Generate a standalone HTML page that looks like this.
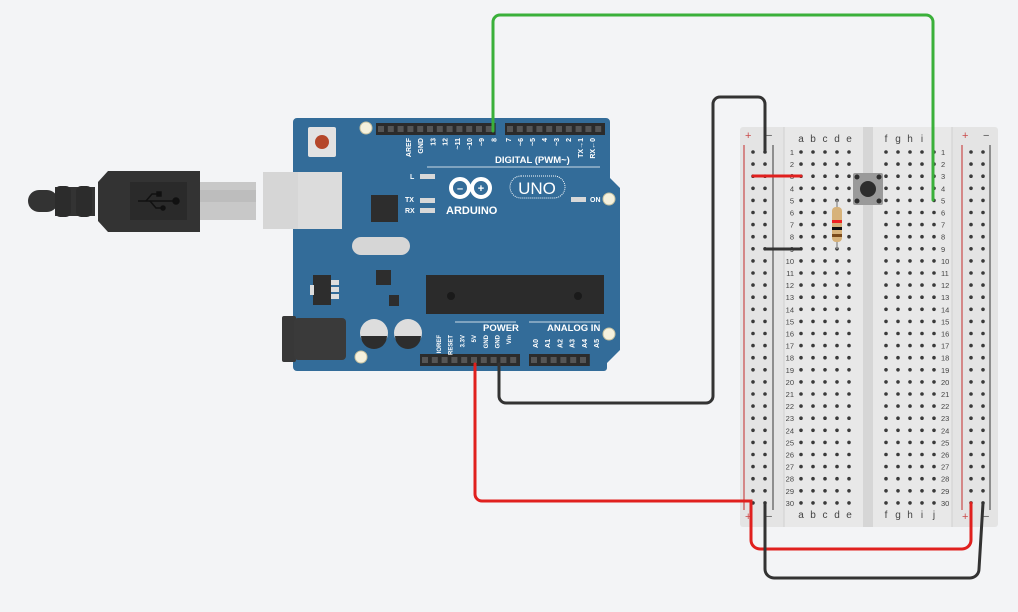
<!DOCTYPE html>
<html><head><meta charset="utf-8"><style>
html,body{margin:0;padding:0;background:#f3f4f6;}
svg{display:block;font-family:"Liberation Sans",sans-serif;}
</style></head><body>
<svg id="s" width="1018" height="612" viewBox="0 0 1018 612" xmlns="http://www.w3.org/2000/svg">
<rect width="1018" height="612" fill="#f3f4f6"/>
<!-- USB cable -->
<rect x="28" y="190" width="30" height="22" rx="11" fill="#333"/>
<rect x="55" y="187" width="40" height="29" fill="#333"/>
<rect x="55" y="186" width="16" height="31" rx="5" fill="#2c2c2c"/>
<rect x="76" y="186" width="16" height="31" rx="5" fill="#2c2c2c"/>
<path d="M98,182 l10,-11 H200 V232 H108 l-10,-11z" fill="#333"/>
<rect x="130" y="182" width="57" height="38" fill="#2a2a2a"/>
<g stroke="#111" stroke-width="1.5" fill="#111"><line x1="138" y1="201" x2="176" y2="201"/><path d="M146,201 l6,-7 h6" fill="none"/><path d="M150,201 l6,7 h6" fill="none"/><circle cx="176" cy="201" r="3"/><rect x="157" y="192" width="4" height="4"/><circle cx="163" cy="208" r="2"/></g>
<rect x="200" y="182" width="56" height="38" fill="#c8c8c8"/>
<rect x="200" y="190" width="56" height="12" fill="#bdbdbd"/>
<!-- Arduino board -->
<path d="M297,118 H606 a4,4 0 0 1 4,4 V178 L620,188 V350 L607,363 V368 a3,3 0 0 1 -3,3 H297 a4,4 0 0 1 -4,-4 V122 a4,4 0 0 1 4,-4z" fill="#336c99"/>
<rect x="263" y="172" width="79" height="57" fill="#dcdcdc"/>
<rect x="263" y="172" width="35" height="57" fill="#d6d6d6"/>
<rect x="308" y="127" width="28" height="30" rx="2" fill="#e2e2e2"/>
<circle cx="322" cy="142" r="7" fill="#b5472a"/>
<g fill="#f5f1dd" stroke="#c8c2a0"><circle cx="366" cy="128" r="6"/><circle cx="609" cy="199" r="6"/><circle cx="609" cy="334" r="6"/><circle cx="361" cy="357" r="6"/></g>
<g id="hdr"></g>
<g fill="#fff" font-size="8.5" font-weight="bold"><text x="495" y="163" font-size="9.5">DIGITAL (PWM~)</text>
<text x="483" y="331" font-size="9.5">POWER</text><text x="547" y="331" font-size="9.5">ANALOG IN</text>
<text x="410" y="179" font-size="7">L</text><text x="405" y="202" font-size="7">TX</text><text x="405" y="213" font-size="7">RX</text><text x="590" y="202" font-size="7">ON</text>
<text x="446" y="214" font-size="11">ARDUINO</text></g>
<line x1="427" y1="167" x2="600" y2="167" stroke="#fff" stroke-width="0.8"/>
<line x1="455" y1="322" x2="516" y2="322" stroke="#fff" stroke-width="0.8"/>
<line x1="529" y1="322" x2="600" y2="322" stroke="#fff" stroke-width="0.8"/>
<g fill="#d8d8d8"><rect x="420" y="174" width="15" height="5"/><rect x="420" y="198" width="15" height="5"/><rect x="420" y="208" width="15" height="5"/><rect x="571" y="197" width="15" height="5"/></g>
<g fill="none" stroke="#fff" stroke-width="4"><circle cx="460" cy="188" r="9"/><circle cx="481" cy="188" r="9"/></g>
<text x="460" y="192" fill="#fff" font-size="11" font-weight="bold" text-anchor="middle">–</text>
<text x="481" y="192" fill="#fff" font-size="11" font-weight="bold" text-anchor="middle">+</text>
<rect x="510" y="176" width="55" height="22" rx="11" fill="none" stroke="#fff" stroke-dasharray="1,1"/>
<text x="537" y="194" fill="#fff" font-size="17" text-anchor="middle">UNO</text>
<rect x="371" y="195" width="27" height="27" fill="#2d2d2d"/>
<rect x="352" y="237" width="58" height="18" rx="9" fill="#d6d6d6"/>
<rect x="376" y="270" width="15" height="15" fill="#2d2d2d"/>
<rect x="313" y="275" width="18" height="30" fill="#2d2d2d"/><g fill="#ddd"><rect x="331" y="280" width="8" height="5"/><rect x="331" y="287" width="8" height="5"/><rect x="331" y="294" width="8" height="5"/><rect x="310" y="285" width="4" height="10"/></g>
<rect x="389" y="295" width="10" height="11" fill="#2d2d2d"/>
<rect x="426" y="275" width="178" height="39" fill="#2b2b2b"/>
<circle cx="451" cy="296" r="4" fill="#1a1a1a"/><circle cx="578" cy="296" r="4" fill="#1a1a1a"/>
<g fill="#ddd"><circle cx="374" cy="333" r="14"/><circle cx="408" cy="333" r="14"/></g>
<g fill="#2d2d2d"><path d="M361,336 h26 a13,13 0 0 1 -26,0z"/><path d="M395,336 h26 a13,13 0 0 1 -26,0z"/></g>
<rect x="282" y="316" width="14" height="46" rx="2" fill="#383838"/>
<rect x="294" y="318" width="52" height="42" rx="4" fill="#3a3a3a"/>
<!-- Breadboard -->
<rect x="740" y="127" width="258" height="400" rx="3" fill="#e4e4e4"/>
<rect x="784" y="127" width="168" height="400" fill="#e8e8e8"/>
<rect x="863" y="127" width="10" height="400" fill="#d6d6d6"/>
<line x1="784" y1="127" x2="784" y2="527" stroke="#d0d0d0"/><line x1="952" y1="127" x2="952" y2="527" stroke="#d0d0d0"/>
<g stroke-width="1.2"><line x1="744" y1="145" x2="744" y2="510" stroke="#c94a4a"/><line x1="773" y1="145" x2="773" y2="510" stroke="#555"/>
<line x1="962" y1="145" x2="962" y2="510" stroke="#c94a4a"/><line x1="990" y1="145" x2="990" y2="510" stroke="#555"/></g>
<g font-size="11"><text x="745" y="139" fill="#c94a4a">+</text><text x="766" y="139" fill="#555">−</text><text x="962" y="139" fill="#c94a4a">+</text><text x="983" y="139" fill="#555">−</text>
<text x="745" y="520" fill="#c94a4a">+</text><text x="766" y="520" fill="#555">−</text><text x="962" y="520" fill="#c94a4a">+</text><text x="983" y="520" fill="#555">−</text></g>
<g id="bb"></g>
<!-- button & resistor -->
<rect x="853" y="173" width="30" height="32" rx="2" fill="#9a9a9a"/>
<circle cx="868" cy="189" r="8" fill="#2d2d2d"/>
<g fill="#2d2d2d"><circle cx="857" cy="177" r="2.5"/><circle cx="879" cy="177" r="2.5"/><circle cx="857" cy="201" r="2.5"/><circle cx="879" cy="201" r="2.5"/></g>
<line x1="837" y1="200" x2="837" y2="249" stroke="#999" stroke-width="1.5"/>
<rect x="832" y="207" width="10" height="35" rx="4" fill="#d7b27a"/>
<rect x="832" y="220" width="10" height="3" fill="#e22"/><rect x="832" y="227" width="10" height="3" fill="#111"/><rect x="832" y="234" width="10" height="3" fill="#7a4a1a"/>
<!-- wires -->
<g fill="none" stroke-width="3" stroke-linecap="round">
<path d="M493,131 V22 a7,7 0 0 1 7,-7 H926 a7,7 0 0 1 7,7 V200" stroke="#3ab03a"/>
<path d="M499,364 V396 a7,7 0 0 0 7,7 H706 a7,7 0 0 0 7,-7 V104 a7,7 0 0 1 7,-7 H758 a7,7 0 0 1 7,7 V152" stroke="#333"/>
<path d="M475,364 V494 a7,7 0 0 0 7,7 H751 V540 a9,9 0 0 0 9,9 H962 a9,9 0 0 0 9,-9 V503" stroke="#e0201e"/>
<path d="M765,503 V569 a9,9 0 0 0 9,9 H970 a9,9 0 0 0 9,-9 L983,503" stroke="#333"/>
<path d="M753,176 H801" stroke="#e0201e"/>
<path d="M765,249 H801" stroke="#333"/>
</g>
</svg>
<script>
var NS="http://www.w3.org/2000/svg";
function el(p,t,a,txt){var e=document.createElementNS(NS,t);for(var k in a)e.setAttribute(k,a[k]);if(txt)e.textContent=txt;p.appendChild(e);return e;}
var h=document.getElementById("hdr");
function header(x1,y,n){el(h,"rect",{x:x1,y:y,width:n*9.8+2,height:12,fill:"#2b2b2b"});for(var i=0;i<n;i++)el(h,"rect",{x:x1+2+i*9.8,y:y+3,width:6,height:6,fill:"#555"});}
header(376,123,12);header(505,123,10);header(420,354,10);header(529,354,6);
var top1=["AREF","GND","13","12","~11","~10","~9","8"],top2=["7","~6","~5","4","~3","2","TX→1","RX←0"];
function vlab(x,y,t,fs){el(h,"text",{x:0,y:0,transform:"translate("+x+","+y+") rotate(-90)",fill:"#fff","font-size":fs,"font-weight":"bold","text-anchor":"end"},t);}
top1.forEach(function(t,i){vlab(411+i*12.2,138,t,"7");});
top2.forEach(function(t,i){vlab(511+i*12,138,t,"7");});
var bot1=["IOREF","RESET","3.3V","5V","GND","GND","Vin"];bot1.forEach(function(t,i){vlab(441+i*11.7,335,t,"6");});
["A0","A1","A2","A3","A4","A5"].forEach(function(t,i){vlab(538+i*12.2,339,t,"7");});
// fix: text-anchor end with rotate -90 puts text below y; flip: we want text from y down? reposition
var b=document.getElementById("bb");
var cols=[753,765,801,813,825,837,849,886,898,910,922,934,971,983];
for(var r=0;r<30;r++){var y=152+r*12.1;
 cols.forEach(function(x){el(b,"circle",{cx:x,cy:y,r:1.8,fill:"#3a3a3a"});});
 el(b,"text",{x:794,y:y+3,"font-size":"7.5",fill:"#444","text-anchor":"end"},""+(r+1));
 el(b,"text",{x:941,y:y+3,"font-size":"7.5",fill:"#444"},""+(r+1));}
"abcdefghij".split("").forEach(function(c,i){var x=cols[2+i];el(b,"text",{x:x,y:142,"font-size":"10",fill:"#444","text-anchor":"middle"},c);el(b,"text",{x:x,y:518,"font-size":"10",fill:"#444","text-anchor":"middle"},c);});
</script>
</body></html>
